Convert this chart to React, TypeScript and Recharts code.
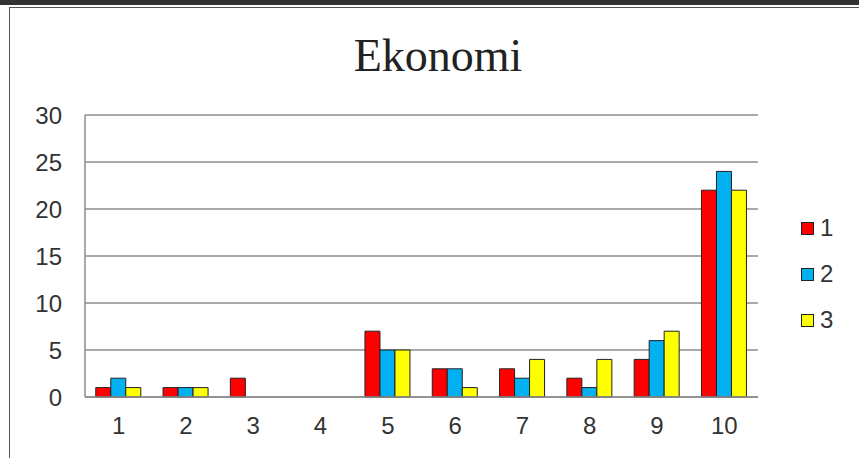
import { Bar, BarChart, CartesianGrid, XAxis, YAxis } from "recharts";

const categories = ["1", "2", "3", "4", "5", "6", "7", "8", "9", "10"];
const series1 = [1, 1, 2, 0, 7, 3, 3, 2, 4, 22];
const series2 = [2, 1, 0, 0, 5, 3, 2, 1, 6, 24];
const series3 = [1, 1, 0, 0, 5, 1, 4, 4, 7, 22];
const yTicks = [0, 5, 10, 15, 20, 25, 30];

const seriesInfo = [
  { key: "s1", name: "1", color: "#FF0000" },
  { key: "s2", name: "2", color: "#00B0F0" },
  { key: "s3", name: "3", color: "#FFFF00" },
];

const data = categories.map((c, i) => ({
  name: c,
  s1: series1[i],
  s2: series2[i],
  s3: series3[i],
}));

const tickStyle = { fill: "#333", fontSize: 24, fontFamily: "Liberation Sans, Arial, sans-serif" };

const App = () => {
  return (
    <div style={{ position: "fixed", left: 0, top: 0, width: 859, height: 458, background: "#fff", overflow: "hidden" }}>
      <div style={{ position: "absolute", left: 0, top: 0, width: 859, height: 5, background: "#333" }} />
      <div
        style={{
          position: "absolute",
          left: 9,
          top: 7,
          width: 900,
          height: 500,
          borderLeft: "1px solid #555",
          borderTop: "1px solid #555",
        }}
      />
      <div
        style={{
          position: "absolute",
          left: 0,
          top: 28,
          width: 876,
          textAlign: "center",
          fontFamily: "Liberation Serif, Times New Roman, serif",
          fontSize: 46,
          color: "#222",
          lineHeight: "56px",
        }}
      >
        Ekonomi
      </div>
      <div style={{ position: "absolute", left: 0, top: 0 }}>
        <BarChart
          width={859}
          height={458}
          data={data}
          margin={{ top: 115, right: 101, left: 0, bottom: 0 }}
          barCategoryGap="16%"
          barGap={0}
        >
          <CartesianGrid vertical={false} stroke="#8c8c8c" strokeWidth={1.5} />
          <XAxis
            dataKey="name"
            tick={tickStyle}
            tickLine={false}
            tickSize={0}
            tickMargin={20}
            axisLine={{ stroke: "#8c8c8c", strokeWidth: 1.5 }}
            height={61}
          />
          <YAxis
            domain={[0, 30]}
            ticks={yTicks}
            tick={tickStyle}
            tickLine={false}
            tickSize={0}
            tickMargin={23}
            axisLine={{ stroke: "#8c8c8c", strokeWidth: 1.5 }}
            width={85}
            interval={0}
          />
          {seriesInfo.map((s) => (
            <Bar
              key={s.key}
              dataKey={s.key}
              name={s.name}
              fill={s.color}
              stroke="#222"
              strokeWidth={1}
              isAnimationActive={false}
            />
          ))}
        </BarChart>
      </div>
      <div
        style={{
          position: "absolute",
          left: 801,
          top: 205,
          fontFamily: "Liberation Sans, Arial, sans-serif",
          fontSize: 24,
          color: "#333",
        }}
      >
        {seriesInfo.map((s) => (
          <div key={s.key} style={{ display: "flex", alignItems: "center", height: 46 }}>
            <span
              style={{
                width: 11,
                height: 11,
                background: s.color,
                border: "1px solid #222",
                marginRight: 6,
                display: "inline-block",
              }}
            />
            <span style={{ lineHeight: "24px" }}>{s.name}</span>
          </div>
        ))}
      </div>
    </div>
  );
};

export default App;
